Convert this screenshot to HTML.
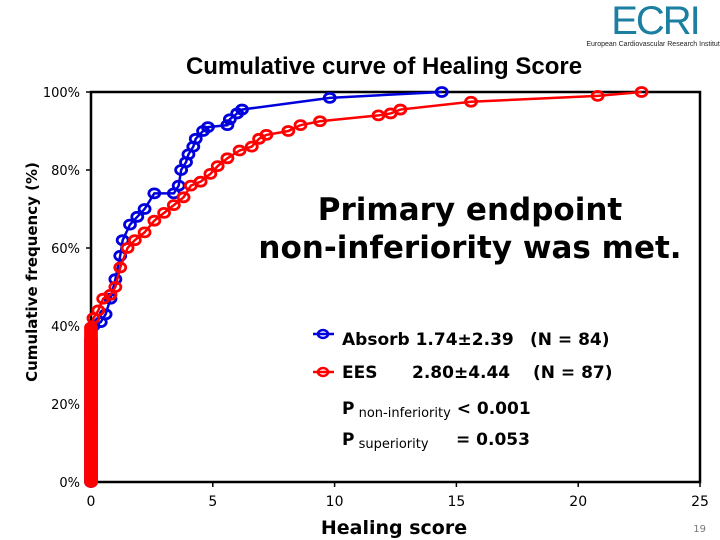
<!DOCTYPE html>
<html><head><meta charset="utf-8"><style>
body{margin:0;background:#fff;width:720px;height:540px;overflow:hidden;font-family:"DejaVu Sans","Liberation Sans",sans-serif}
svg{position:absolute;left:0;top:0}
</style></head><body>
<svg width="720" height="540">
<g>
<text x="655" y="34" font-family="Liberation Sans,sans-serif" font-size="40" fill="#1a7fa0" text-anchor="middle" letter-spacing="-2">ECRI</text>
<text x="655" y="46" font-family="Liberation Sans,sans-serif" font-size="7" fill="#222" text-anchor="middle">European Cardiovascular Research Institute</text>
</g>
<text x="384" y="74" font-size="24" font-weight="bold" text-anchor="middle" font-family="Liberation Sans,sans-serif">Cumulative curve of Healing Score</text>
<text transform="translate(37,272) rotate(-90)" font-size="15" font-weight="bold" text-anchor="middle">Cumulative frequency (%)</text>
<text x="394" y="534" font-size="19" font-weight="bold" text-anchor="middle">Healing score</text>
<text x="706" y="532" font-size="10" fill="#777" text-anchor="end">19</text>
<g id="axes"></g>
<g id="series"></g>
<text x="470" y="220" font-size="31" font-weight="bold" text-anchor="middle">Primary endpoint</text>
<text x="470" y="258" font-size="31" font-weight="bold" text-anchor="middle">non-inferiority was met.</text>
<g>
<line x1="313" y1="334" x2="334" y2="334" stroke="#0000dd" stroke-width="2.5"/>
<ellipse cx="323" cy="334" rx="5" ry="4" fill="none" stroke="#0000dd" stroke-width="2.5"/>
<text x="342" y="345" font-size="17" font-weight="bold">Absorb 1.74±2.39</text>
<text x="530" y="345" font-size="17" font-weight="bold">(N = 84)</text>
<line x1="313" y1="372" x2="334" y2="372" stroke="#ff0000" stroke-width="2.5"/>
<ellipse cx="323" cy="372" rx="5" ry="4" fill="none" stroke="#ff0000" stroke-width="2.5"/>
<text x="342" y="378" font-size="17" font-weight="bold">EES</text>
<text x="412" y="378" font-size="17" font-weight="bold">2.80±4.44</text>
<text x="533" y="378" font-size="17" font-weight="bold">(N = 87)</text>
<text x="342" y="414" font-size="17" font-weight="bold">P<tspan font-size="13" font-weight="normal" dy="3"> non-inferiority</tspan><tspan dy="-3"> &lt; 0.001</tspan></text>
<text x="342" y="445" font-size="17" font-weight="bold">P<tspan font-size="13" font-weight="normal" dy="3"> superiority</tspan><tspan dy="-3" x="456">= 0.053</tspan></text>
</g>
</svg>
<script>
const xTicks=[0,5,10,15,20,25];
const yTicks=[0,20,40,60,80,100];
const absorbX=[0.1,0.4,0.6,0.8,1,1.2,1.3,1.6,1.9,2.2,2.6,3.4,3.6,3.7,3.9,4,4.2,4.3,4.6,4.8,5.6,5.7,6,6.2,9.8,14.4];
const absorbY=[40,41,43,47,52,58,62,66,68,70,74,74,76,80,82,84,86,88,90,91,91.5,93,94.5,95.5,98.5,100];
const eesX=[0.1,0.3,0.5,0.8,1,1.2,1.5,1.8,2.2,2.6,3,3.4,3.8,4.1,4.5,4.9,5.2,5.6,6.1,6.6,6.9,7.2,8.1,8.6,9.4,11.8,12.3,12.7,15.6,20.8,22.6];
const eesY=[42,44,47,48,50,55,60,62,64,67,69,71,73,76,77,79,81,83,85,86,88,89,90,91.5,92.5,94,94.5,95.5,97.5,99,100];
const absorbStart=37, eesStart=40;
const X=v=>91+v*(700-91)/25, Y=v=>482-v*3.9;
const NS='http://www.w3.org/2000/svg';
function mk(t,a,p){const e=document.createElementNS(NS,t);for(const k in a)e.setAttribute(k,a[k]);p.appendChild(e);return e;}
const ax=document.getElementById('axes');
const frame=mk('rect',{x:X(0),y:Y(100),width:X(25)-X(0),height:Y(0)-Y(100),fill:'none',stroke:'#000','stroke-width':2.5},ax);


xTicks.forEach(t=>{
 const l=mk('line',{x1:X(t),x2:X(t),y1:Y(0),y2:Y(0)+5,stroke:'#000','stroke-width':1.5},ax);
 
 
 const tx=mk('text',{x:X(t),y:506,'font-size':14,'text-anchor':'middle'},ax);tx.textContent=t;
 
 
});
yTicks.forEach(t=>{
 const l=mk('line',{x1:X(0)-5,x2:X(0),y1:Y(t),y2:Y(t),stroke:'#000','stroke-width':1.5},ax);
 
 
 const tx=mk('text',{x:80,y:Y(t)+5,'font-size':13,'text-anchor':'end'},ax);tx.textContent=t+'%';
 
 
});
const sg=document.getElementById('series');
function series(xs,ys,start,col,name){
 const g=mk('g',{},sg);
 
 
 const px=[],py=[];
 for(let v=0;v<=start;v+=0.6){px.push(0);py.push(v);}
 xs.forEach((x,i)=>{px.push(x);py.push(ys[i]);});
 mk('polyline',{points:px.map((x,i)=>X(x)+','+Y(py[i])).join(' '),fill:'none',stroke:col,'stroke-width':2.5},g);
 px.forEach((x,i)=>{
  const c=mk('ellipse',{cx:X(x),cy:Y(py[i]),rx:5.5,ry:4.5,fill:'none',stroke:col,'stroke-width':2.8},g);
  
  
 });
}
series(absorbX,absorbY,absorbStart,'#0000dd','absorb-series');
series(eesX,eesY,eesStart,'#ff0000','ees-series');
</script>
</body></html>
